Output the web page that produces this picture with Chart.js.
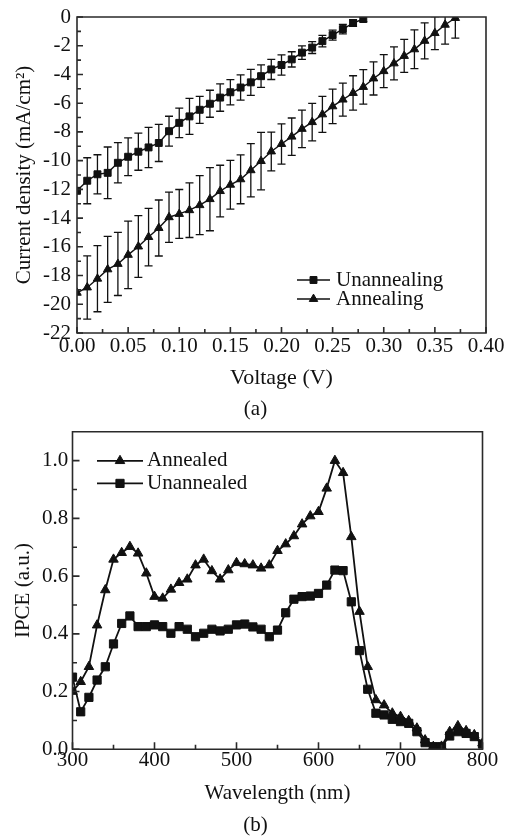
<!DOCTYPE html>
<html><head><meta charset="utf-8">
<script src="https://cdn.jsdelivr.net/npm/chart.js@4.4.1/dist/chart.umd.min.js"></script>
<style>
html,body{margin:0;padding:0;background:#fff;width:511px;height:837px;overflow:hidden;}
.wrap{position:absolute;left:0;width:511px;}
#wa{top:0;height:425px;}
#wb{top:425px;height:412px;}
canvas{display:block;}
</style></head><body>
<div class="wrap" id="wa"><canvas id="ca" width="511" height="425"></canvas></div>
<div class="wrap" id="wb"><canvas id="cb" width="511" height="412"></canvas></div>
<script>
// ---------- Panel (a): J-V ----------
const voltageUnannealing = [0,0.01,0.02,0.03,0.04,0.05,0.06,0.07,0.08,0.09,0.10,0.11,0.12,0.13,0.14,0.15,0.16,0.17,0.18,0.19,0.20,0.21,0.22,0.23,0.24,0.25,0.26,0.27,0.28];
const currentUnannealing = [-12.1,-11.4,-10.95,-10.85,-10.15,-9.73,-9.38,-9.08,-8.77,-7.95,-7.37,-6.92,-6.46,-6.04,-5.61,-5.24,-4.91,-4.55,-4.12,-3.65,-3.34,-2.95,-2.48,-2.13,-1.68,-1.26,-0.84,-0.42,-0.14];
const errorUnannealing = [0,1.6,1.36,1.8,1.4,1.32,1.29,1.4,1.29,1.04,1.03,1.25,0.94,0.94,0.95,0.88,0.88,0.9,0.78,0.7,0.7,0.53,0.47,0.41,0.4,0.35,0.33,0.23,0.19];

const voltageAnnealing = [0,0.01,0.02,0.03,0.04,0.05,0.06,0.07,0.08,0.09,0.10,0.11,0.12,0.13,0.14,0.15,0.16,0.17,0.18,0.19,0.20,0.21,0.22,0.23,0.24,0.25,0.26,0.27,0.28,0.29,0.30,0.31,0.32,0.33,0.34,0.35,0.36,0.37];
const currentAnnealing = [-19.2,-18.83,-18.22,-17.57,-17.19,-16.56,-15.98,-15.32,-14.69,-13.94,-13.71,-13.45,-13.1,-12.68,-12.12,-11.68,-11.3,-10.67,-10.03,-9.36,-8.84,-8.33,-7.79,-7.32,-6.78,-6.22,-5.75,-5.29,-4.87,-4.28,-3.77,-3.23,-2.71,-2.25,-1.66,-1.12,-0.54,-0.07];
const errorAnnealing = [0,2.2,2.3,2.3,2.2,2.35,2.15,2.0,1.95,1.75,1.7,1.9,2.05,2.2,1.8,1.7,1.7,1.85,2.0,1.35,1.4,1.3,1.3,1.3,1.25,1.2,1.15,1.2,1.2,1.15,1.15,1.15,1.15,1.35,1.25,1.15,1.35,1.4];

const voltageTicks = [0,0.05,0.10,0.15,0.20,0.25,0.30,0.35,0.40];
const voltageTickLabels = ['0.00','0.05','0.10','0.15','0.20','0.25','0.30','0.35','0.40'];
const currentTicks = [-22,-20,-18,-16,-14,-12,-10,-8,-6,-4,-2,0];
const currentTickLabels = ['-22','-20','-18','-16','-14','-12','-10','-8','-6','-4','-2','0'];

// ---------- Panel (b): IPCE ----------
const wavelengths = [300,310,320,330,340,350,360,370,380,390,400,410,420,430,440,450,460,470,480,490,500,510,520,530,540,550,560,570,580,590,600,610,620,630,640,650,660,670,680,690,700,710,720,730,740,750,760,770,780,790,800];
const ipceAnnealed = [0.20,0.234,0.286,0.43,0.552,0.658,0.681,0.702,0.679,0.610,0.529,0.523,0.554,0.577,0.589,0.638,0.658,0.618,0.589,0.621,0.646,0.642,0.638,0.627,0.638,0.688,0.711,0.739,0.780,0.808,0.823,0.904,1.0,0.958,0.736,0.477,0.286,0.171,0.153,0.125,0.113,0.099,0.073,0.032,0.009,0.01,0.061,0.081,0.064,0.05,0.021];
const ipceUnannealed = [0.25,0.13,0.18,0.24,0.286,0.365,0.436,0.462,0.425,0.425,0.431,0.425,0.402,0.425,0.416,0.39,0.402,0.416,0.41,0.416,0.431,0.434,0.424,0.416,0.39,0.413,0.473,0.52,0.529,0.531,0.54,0.569,0.621,0.619,0.511,0.342,0.208,0.125,0.119,0.104,0.096,0.09,0.061,0.023,0.009,0.009,0.046,0.061,0.055,0.044,0.018];
const wavelengthTicks = [300,400,500,600,700,800];
const wavelengthTickLabels = ['300','400','500','600','700','800'];
const ipceTicks = [0,0.2,0.4,0.6,0.8,1.0];
const ipceTickLabels = ['0.0','0.2','0.4','0.6','0.8','1.0'];

const FAMILY = '"Liberation Serif", "Times New Roman", Times, serif';
const INK = '#111';
Chart.defaults.font.family = FAMILY;
Chart.defaults.color = INK;

function pts(xs, ys){ return xs.map((v,i)=>({x:v, y:ys[i]})); }

function marker(ctx, style, r, x, y){
  ctx.beginPath();
  if (style === 'rect') {
    const s = Math.SQRT1_2 * r;
    ctx.rect(x - s, y - s, 2*s, 2*s);
  } else {
    let a = 0;
    ctx.moveTo(x + Math.sin(a)*r, y - Math.cos(a)*r);
    a += Math.PI*2/3; ctx.lineTo(x + Math.sin(a)*r, y - Math.cos(a)*r);
    a += Math.PI*2/3; ctx.lineTo(x + Math.sin(a)*r, y - Math.cos(a)*r);
    ctx.closePath();
  }
  ctx.fill(); ctx.stroke();
}

const errorBarPlugin = {
  id: 'errorBars',
  beforeDatasetsDraw(chart, args, o) {
    const {ctx, chartArea: a, scales: {x, y}} = chart;
    ctx.save();
    ctx.beginPath(); ctx.rect(a.left, a.top, a.right - a.left, a.bottom - a.top); ctx.clip();
    ctx.strokeStyle = o.color || INK; ctx.lineWidth = o.width || 1.3;
    ctx.beginPath();
    chart.data.datasets.forEach(ds => {
      if (!ds.errorBars) return;
      ds.data.forEach((p, j) => {
        const e = ds.errorBars[j]; if (!e) return;
        const px = x.getPixelForValue(p.x);
        const t = y.getPixelForValue(p.y + e), b = y.getPixelForValue(p.y - e);
        ctx.moveTo(px, t); ctx.lineTo(px, b);
        ctx.moveTo(px - o.cap, t); ctx.lineTo(px + o.cap, t);
        ctx.moveTo(px - o.cap, b); ctx.lineTo(px + o.cap, b);
      });
    });
    ctx.stroke();
    ctx.restore();
  }
};

const framePlugin = {
  id: 'frame',
  afterDatasetsDraw(chart, args, o) {
    const {ctx, chartArea: a, scales: {x: xs, y: ys}} = chart;
    ctx.save();
    ctx.strokeStyle = o.color; ctx.lineWidth = o.width;
    ctx.beginPath();
    ctx.rect(a.left, a.top, a.right - a.left, a.bottom - a.top);
    ctx.stroke();
    ctx.beginPath();
    const xv = xs.ticks.map(t => t.value), yv = ys.ticks.map(t => t.value);
    xv.forEach(v => { const p = xs.getPixelForValue(v); ctx.moveTo(p, a.bottom); ctx.lineTo(p, a.bottom - o.major); });
    for (let i = 0; i < xv.length - 1; i++) { const p = xs.getPixelForValue((xv[i] + xv[i+1]) / 2); ctx.moveTo(p, a.bottom); ctx.lineTo(p, a.bottom - o.minor); }
    yv.forEach(v => { const p = ys.getPixelForValue(v); ctx.moveTo(a.left, p); ctx.lineTo(a.left + o.major, p); });
    for (let i = 0; i < yv.length - 1; i++) { const p = ys.getPixelForValue((yv[i] + yv[i+1]) / 2); ctx.moveTo(a.left, p); ctx.lineTo(a.left + o.minor, p); }
    ctx.stroke();
    ctx.restore();
  }
};

const lineLegendPlugin = {
  id: 'lineLegend',
  afterDraw(chart, args, o) {
    const {ctx, chartArea: a} = chart;
    ctx.save();
    ctx.font = o.fontSize + 'px ' + FAMILY;
    ctx.textBaseline = 'middle';
    ctx.textAlign = 'left';
    chart.data.datasets.forEach((ds, i) => {
      const x0 = a.left + o.dx, y0 = a.top + o.dy + i * o.rowHeight;
      ctx.strokeStyle = ds.borderColor; ctx.fillStyle = ds.backgroundColor;
      ctx.lineWidth = ds.borderWidth;
      ctx.beginPath(); ctx.moveTo(x0, y0); ctx.lineTo(x0 + o.lineLength, y0); ctx.stroke();
      ctx.lineWidth = ds.pointBorderWidth;
      marker(ctx, ds.pointStyle, ds.pointRadius, x0 + o.lineLength / 2, y0);
      ctx.fillStyle = INK;
      ctx.fillText(ds.label, x0 + o.lineLength + o.gap, y0);
    });
    ctx.restore();
  }
};

function fixedTicks(values){ return s => { s.ticks = values.map(v => ({value: v})); }; }
function spacer(w){
  return { position: 'right', display: true, grid: { display: false, drawTicks: false }, border: { display: false },
           ticks: { display: false }, afterFit: s => { s.width = w; } };
}

// ---------- Chart (a) ----------
new Chart(document.getElementById('ca'), {
  type: 'line',
  data: { datasets: [
    { label: 'Unannealing', data: pts(voltageUnannealing, currentUnannealing), errorBars: errorUnannealing,
      pointStyle: 'rect', pointRadius: 4.9, pointBorderWidth: 1, borderColor: INK, backgroundColor: INK, borderWidth: 1.4, tension: 0, fill: false },
    { label: 'Annealing', data: pts(voltageAnnealing, currentAnnealing), errorBars: errorAnnealing,
      pointStyle: 'triangle', pointRadius: 4.9, pointBorderWidth: 1, borderColor: INK, backgroundColor: INK, borderWidth: 1.4, tension: 0, fill: false }
  ]},
  options: {
    responsive: false, animation: false, devicePixelRatio: 1,
    layout: { padding: { left: 0, top: 17, right: 0, bottom: 0 } },
    plugins: {
      legend: { display: false }, tooltip: { enabled: false },
      title: { display: true, text: '(a)', position: 'bottom', color: INK, font: { size: 21, weight: 'normal', lineHeight: 1 }, padding: { top: 4, bottom: 5.2 } },
      errorBars: { cap: 4, width: 1.3, color: INK },
      frame: { color: '#2a2a2a', width: 1.6, major: 6, minor: 4 },
      lineLegend: { dx: 220, dy: 263, rowHeight: 19, lineLength: 33, gap: 6, fontSize: 21 }
    },
    scales: {
      x: { type: 'linear', min: 0, max: 0.4, afterBuildTicks: fixedTicks(voltageTicks),
        ticks: { callback: (v, i) => voltageTickLabels[i], padding: 3, maxRotation: 0, autoSkip: false, color: INK, font: { size: 21, lineHeight: 1 } },
        grid: { display: false, drawTicks: false }, border: { display: false },
        title: { display: true, text: 'Voltage (V)', color: INK, font: { size: 22, lineHeight: 1 }, padding: { top: 0, bottom: 6 } },
        afterFit: s => { s.height = 61.8; } },
      y: { type: 'linear', min: -22, max: 0, afterBuildTicks: fixedTicks(currentTicks),
        ticks: { callback: (v, i) => currentTickLabels[i], padding: 6, autoSkip: false, color: INK, font: { size: 21, lineHeight: 1 } },
        grid: { display: false, drawTicks: false }, border: { display: false },
        title: { display: true, text: 'Current density (mA/cm²)', color: INK, font: { size: 21, lineHeight: 1 }, padding: { top: 13.5, bottom: 0 } },
        afterFit: s => { s.width = 77; } },
      yr: spacer(25)
    }
  },
  plugins: [errorBarPlugin, framePlugin, lineLegendPlugin]
});

// ---------- Chart (b) ----------
new Chart(document.getElementById('cb'), {
  type: 'line',
  data: { datasets: [
    { label: 'Annealed', data: pts(wavelengths, ipceAnnealed),
      pointStyle: 'triangle', pointRadius: 5.5, pointBorderWidth: 1, borderColor: INK, backgroundColor: INK, borderWidth: 1.8, tension: 0, fill: false },
    { label: 'Unannealed', data: pts(wavelengths, ipceUnannealed),
      pointStyle: 'rect', pointRadius: 5.8, pointBorderWidth: 1, borderColor: INK, backgroundColor: INK, borderWidth: 1.8, tension: 0, fill: false }
  ]},
  options: {
    responsive: false, animation: false, devicePixelRatio: 1,
    layout: { padding: { left: 0, top: 6.7, right: 0, bottom: 0 } },
    plugins: {
      legend: { display: false }, tooltip: { enabled: false },
      title: { display: true, text: '(b)', position: 'bottom', color: INK, font: { size: 21, weight: 'normal', lineHeight: 1 }, padding: { top: 4, bottom: 1 } },
      frame: { color: '#2a2a2a', width: 1.6, major: 7, minor: 4.5 },
      lineLegend: { dx: 24.5, dy: 29, rowHeight: 22.6, lineLength: 46, gap: 4, fontSize: 21 }
    },
    scales: {
      x: { type: 'linear', min: 300, max: 800, afterBuildTicks: fixedTicks(wavelengthTicks),
        ticks: { callback: (v, i) => wavelengthTickLabels[i], padding: 1, maxRotation: 0, autoSkip: false, color: INK, font: { size: 21, lineHeight: 1 } },
        grid: { display: false, drawTicks: false }, border: { display: false },
        title: { display: true, text: 'Wavelength (nm)', color: INK, font: { size: 21, lineHeight: 1 }, padding: { top: 0, bottom: 7.2 } },
        afterFit: s => { s.height = 61.7; } },
      y: { type: 'linear', min: 0, max: 1.1, afterBuildTicks: fixedTicks(ipceTicks),
        ticks: { callback: (v, i) => ipceTickLabels[i], padding: 4.2, autoSkip: false, color: INK, font: { size: 21, lineHeight: 1 } },
        grid: { display: false, drawTicks: false }, border: { display: false },
        title: { display: true, text: 'IPCE (a.u.)', color: INK, font: { size: 21, lineHeight: 1 }, padding: { top: 12.8, bottom: 0 } },
        afterFit: s => { s.width = 72.5; s.paddingTop = 0; } },
      yr: spacer(28.5)
    }
  },
  plugins: [framePlugin, lineLegendPlugin]
});
</script>
</body></html>
